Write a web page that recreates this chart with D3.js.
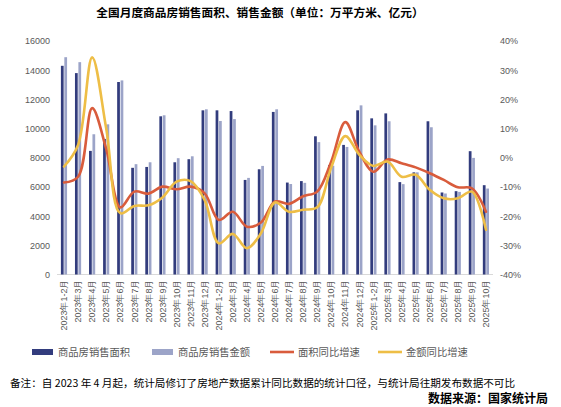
<!DOCTYPE html>
<html>
<head>
<meta charset="utf-8">
<script src="https://cdn.jsdelivr.net/npm/d3@7"></script>
<style>
    body { margin: 0; background: #fff; }
    svg { display: block; font-family: "Noto Sans CJK SC", "Noto Sans", sans-serif; }
    .tick text { fill: #595959; }
</style>
</head>
<body>
<svg id="chart" width="561" height="407"></svg>
<script>
/**
 * Data.
 */
const categories = [
    '2023年1-2月', '2023年3月', '2023年4月', '2023年5月', '2023年6月', '2023年7月',
    '2023年8月', '2023年9月', '2023年10月', '2023年11月', '2023年12月',
    '2024年1-2月', '2024年3月', '2024年4月', '2024年5月', '2024年6月', '2024年7月',
    '2024年8月', '2024年9月', '2024年10月', '2024年11月', '2024年12月',
    '2025年1-2月', '2025年3月', '2025年4月', '2025年5月', '2025年6月', '2025年7月',
    '2025年8月', '2025年9月', '2025年10月'
];

// 商品房销售面积 (万平方米)
const areaValues = [
    14300, 13800, 8470, 9290, 13190, 7310, 7370, 10840, 7690, 7900, 11250,
    11250, 11200, 6480, 7210, 11140, 6300, 6400, 9470, 7500, 8880, 11250,
    10700, 11040, 6330, 7000, 10500, 5620, 5710, 8450, 6120
];

// 商品房销售金额 (亿元)
const amountValues = [
    14890, 14550, 9610, 10290, 13300, 7560, 7690, 10910, 7970, 8100, 11320,
    10520, 10650, 6620, 7440, 11320, 6200, 6280, 9070, 7450, 8740, 11590,
    10220, 10500, 6190, 7000, 10090, 5550, 5660, 7990, 5890
];

// 面积同比增速 (%)
const areaYoY = [
    -8.5, -6.5, 17, 3, -17, -11.6, -12.3, -9.9, -10.8, -9.9, -12.2,
    -21.3, -18.5, -23.6, -22.2, -15, -15.8, -13.2, -11.6, -1.3, 12.2, 2,
    -4.8, -0.6, -1.9, -3.3, -5.3, -7.6, -10.1, -10.5, -18.5
];

// 金额同比增速 (%)
const amountYoY = [
    -3, 4.4, 34.4, 10, -19, -16.5, -16.3, -13.6, -8.2, -8, -14.5,
    -29.3, -26.1, -31, -25.9, -15.3, -18.5, -17.8, -17, -3.3, 7.4, 1,
    -2.8, -1.3, -6.5, -5.8, -11, -13.9, -13.9, -11.6, -24.7
];

const leftTicks = [0, 2000, 4000, 6000, 8000, 10000, 12000, 14000, 16000];
const rightTicks = [-40, -30, -20, -10, 0, 10, 20, 30, 40];

/**
 * Visual configs.
 */
const plot = { left: 57, right: 493, top: 41, bottom: 274.5 };
const colors = {
    area: '#323c7d',
    amount: '#9ca4c8',
    areaYoY: '#d95c3c',
    amountYoY: '#eebe46'
};

const svg = d3.select('#chart');

/**
 * Scales.
 */
const x = d3.scaleBand().domain(categories).range([plot.left, plot.right]);
const xSub = d3.scaleBand().domain(['area', 'amount'])
    .range([3.9, x.bandwidth() - 4]).paddingInner(0.2);
const yLeft = d3.scaleLinear().domain([0, 16000]).range([plot.bottom, plot.top]);
const yRight = d3.scaleLinear().domain([-40, 40]).range([plot.bottom, plot.top]);

/**
 * Title.
 */
svg.append('text')
    .attr('x', 260).attr('y', 17)
    .attr('text-anchor', 'middle')
    .attr('font-size', 11.7).attr('font-weight', 'bold').attr('fill', '#000')
    .text('全国月度商品房销售面积、销售金额（单位：万平方米、亿元）');

/**
 * Axes.
 */
const leftAxis = svg.append('g')
    .attr('transform', 'translate(' + (plot.left - 7) + ',0)')
    .call(d3.axisLeft(yLeft).tickValues(leftTicks).tickSize(0).tickPadding(0)
        .tickFormat(d3.format('d')));
leftAxis.select('.domain').remove();
leftAxis.selectAll('text').attr('font-size', 9);

const rightAxis = svg.append('g')
    .attr('transform', 'translate(' + (plot.right + 7) + ',0)')
    .call(d3.axisRight(yRight).tickValues(rightTicks).tickSize(0).tickPadding(0)
        .tickFormat(d => (d < 0 ? '-' : '') + Math.abs(d) + '%'));
rightAxis.select('.domain').remove();
rightAxis.selectAll('text').attr('font-size', 9);

// baseline
svg.append('line')
    .attr('x1', plot.left).attr('x2', plot.right)
    .attr('y1', yLeft(0)).attr('y2', yLeft(0))
    .attr('stroke', '#d9d9d9').attr('stroke-width', 1);

// category labels, rotated
const bottomAxis = svg.append('g')
    .attr('transform', 'translate(0,' + (plot.bottom + 5) + ')')
    .call(d3.axisBottom(x).tickSize(0).tickPadding(0));
bottomAxis.select('.domain').remove();
bottomAxis.selectAll('text')
    .attr('font-size', 9)
    .attr('text-anchor', 'end')
    .attr('dy', '0.35em')
    .attr('y', 0)
    .attr('transform', 'rotate(-90)');

/**
 * Bars.
 */
const groups = svg.append('g').attr('class', 'bars')
    .selectAll('g').data(categories).join('g')
    .attr('transform', d => 'translate(' + x(d) + ',0)');

groups.append('rect')
    .attr('x', xSub('area')).attr('width', xSub.bandwidth())
    .attr('y', (d, i) => yLeft(areaValues[i]))
    .attr('height', (d, i) => yLeft(0) - yLeft(areaValues[i]))
    .attr('fill', colors.area);

groups.append('rect')
    .attr('x', xSub('amount')).attr('width', xSub.bandwidth())
    .attr('y', (d, i) => yLeft(amountValues[i]))
    .attr('height', (d, i) => yLeft(0) - yLeft(amountValues[i]))
    .attr('fill', colors.amount);

/**
 * Lines.
 */
const line = d3.line()
    .x((d, i) => x(categories[i]) + x.bandwidth() / 2)
    .y(d => yRight(d))
    .curve(d3.curveCatmullRom.alpha(0.5));

svg.append('path').datum(areaYoY)
    .attr('d', line).attr('fill', 'none')
    .attr('stroke', colors.areaYoY).attr('stroke-width', 2.6)
    .attr('stroke-linecap', 'round');

svg.append('path').datum(amountYoY)
    .attr('d', line).attr('fill', 'none')
    .attr('stroke', colors.amountYoY).attr('stroke-width', 2.6)
    .attr('stroke-linecap', 'round');

/**
 * Legend.
 */
const legendItems = [
    { label: '商品房销售面积', color: colors.area, type: 'rect', x: 32 },
    { label: '商品房销售金额', color: colors.amount, type: 'rect', x: 152 },
    { label: '面积同比增速', color: colors.areaYoY, type: 'line', x: 270 },
    { label: '金额同比增速', color: colors.amountYoY, type: 'line', x: 378 }
];

const legend = svg.append('g').attr('class', 'legend')
    .selectAll('g').data(legendItems).join('g')
    .attr('transform', d => 'translate(' + d.x + ',352)');

legend.filter(d => d.type === 'rect').append('rect')
    .attr('x', 0).attr('y', -3).attr('width', 21).attr('height', 6)
    .attr('fill', d => d.color);

legend.filter(d => d.type === 'line').append('line')
    .attr('x1', 0).attr('x2', 24).attr('y1', 0).attr('y2', 0)
    .attr('stroke', d => d.color).attr('stroke-width', 2.6);

legend.append('text')
    .attr('x', d => d.type === 'rect' ? 26 : 28).attr('y', 0)
    .attr('dy', '0.35em')
    .attr('font-size', 10.3).attr('fill', '#595959')
    .text(d => d.label);

/**
 * Notes.
 */
svg.append('text')
    .attr('x', 10).attr('y', 387)
    .attr('font-size', 10.6).attr('fill', '#000')
    .text('备注：自 2023 年 4 月起，统计局修订了房地产数据累计同比数据的统计口径，与统计局往期发布数据不可比');

svg.append('text')
    .attr('x', 428).attr('y', 403)
    .attr('font-size', 12).attr('font-weight', 'bold').attr('fill', '#000')
    .text('数据来源：国家统计局');
</script>
</body>
</html>
